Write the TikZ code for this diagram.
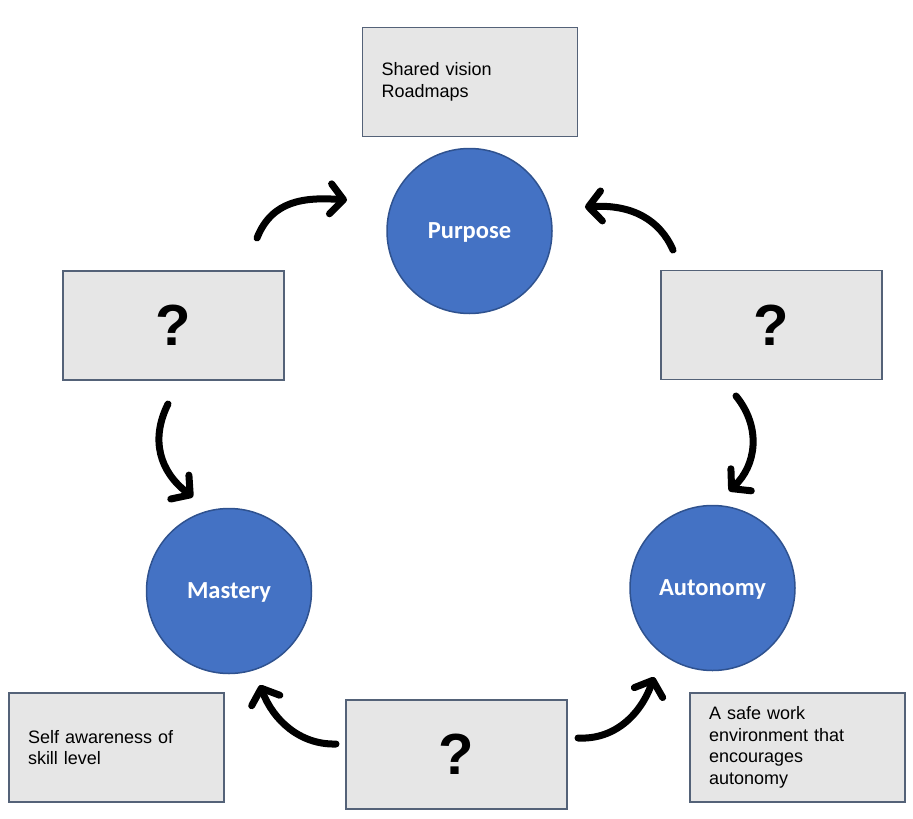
\documentclass[tikz,border=0pt]{standalone}
\usepackage{fontspec}
\setmainfont{Liberation Sans}
\newfontfamily\calibri{Carlito}
\usetikzlibrary{arrows.meta}

\definecolor{circfill}{RGB}{68,114,196}
\definecolor{circline}{RGB}{47,82,143}
\definecolor{boxfill}{RGB}{230,230,230}
\definecolor{boxline}{RGB}{84,98,120}

\tikzset{
  pillar/.style={circle, fill=circfill, draw=circline, line width=1.5pt,
    minimum size=165pt, inner sep=0pt, text=white, text depth=0pt,
    font=\calibri\bfseries\fontsize{24.5}{28}\selectfont},
  qbox/.style={rectangle, fill=boxfill, draw=boxline, line width=1.8pt,
    minimum width=221pt, minimum height=109pt, inner sep=0pt,
    font=\bfseries\fontsize{58}{60}\selectfont},
  notebox/.style={rectangle, fill=boxfill, draw=boxline, line width=1.8pt,
    text width=177pt, inner xsep=19pt, inner ysep=0pt,
    minimum height=109pt, align=left,
    font=\fontsize{18}{21.5}\selectfont},
  cyc/.style={line width=7pt, line cap=round,
    -{Straight Barb[length=13pt,width=30pt,round]}}
}

\begin{document}
\begin{tikzpicture}[x=1pt,y=-1pt]
\useasboundingbox (0,0) rectangle (913,819);

% the three circles
\node[pillar] (purpose) at (469.5,231) {Purpose};
\node[pillar] (mastery) at (229,591) {Mastery};
\node[pillar] (autonomy) at (712.5,588) {Autonomy};

% note boxes
\node[notebox] (vision) at (470,82) {Shared vision\\Roadmaps};
\node[notebox] (skill) at (116.5,747.5) {Self awareness of\\skill level};
\node[notebox] (safe) at (797.5,747.5) {A safe work\\environment that\\encourages\\autonomy};

% question boxes
\node[qbox] (qleft) at (173.5,325.5) {?};
\node[qbox] (qright) at (771.5,325) {?};
\node[qbox] (qbottom) at (456.5,754.5) {?};

% arrow ends
\coordinate (a1s) at (257,238);
\coordinate (a1e) at (347,200);
\coordinate (a2s) at (673,250);
\coordinate (a2e) at (585,207);
\coordinate (a3s) at (168,404);
\coordinate (a3e) at (193,497);
\coordinate (a4s) at (736,396);
\coordinate (a4e) at (729,491);
\coordinate (a5s) at (336,744);
\coordinate (a5e) at (260,685);
\coordinate (a6s) at (578,738);
\coordinate (a6e) at (654,677);

% arrows round the cycle
\draw[cyc] (a1s) .. controls (272,200) and (305,197) .. (a1e);
\draw[cyc] (a2s) .. controls (660,220) and (632,204) .. (a2e);
\draw[cyc] (a3s) .. controls (150,440) and (160,472) .. (a3e);
\draw[cyc] (a4s) .. controls (762,428) and (756,466) .. (a4e);
\draw[cyc] (a5s) .. controls (300,745) and (273,720) .. (a5e);
\draw[cyc] (a6s) .. controls (615,740) and (641,714) .. (a6e);
\end{tikzpicture}
\end{document}
